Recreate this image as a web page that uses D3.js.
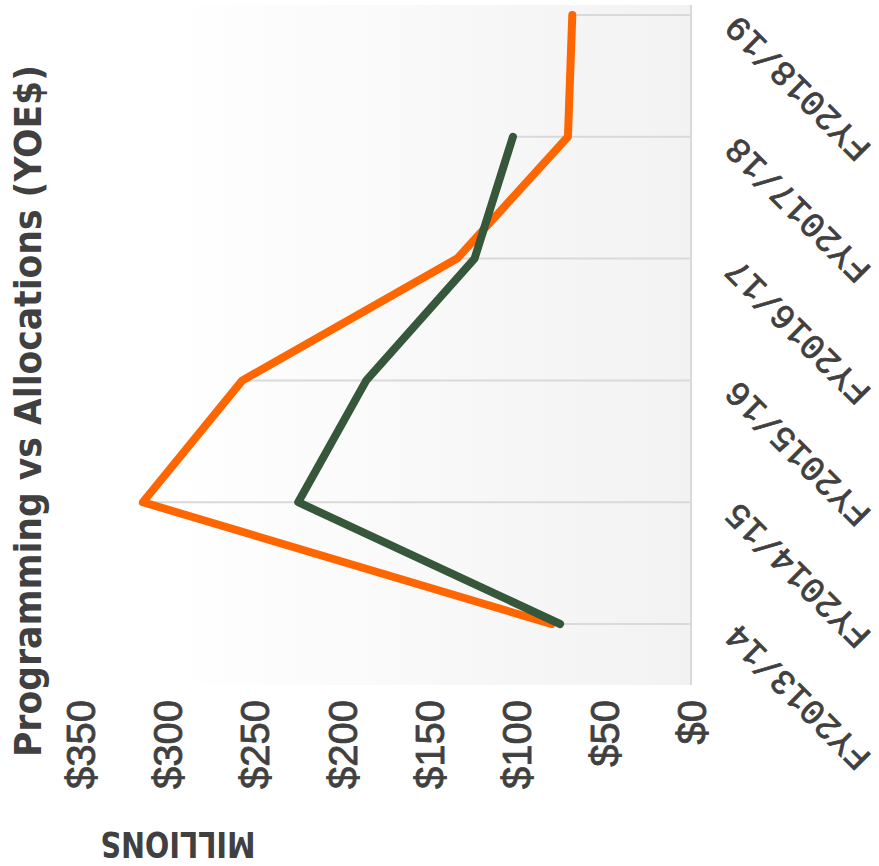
<!DOCTYPE html>
<html><head><meta charset="utf-8">
<script src="https://cdn.jsdelivr.net/npm/d3@7"></script>
<style>body{margin:0;background:#fff}</style>
</head><body>
<svg id="c" width="879" height="866"></svg>
<script>
const categories = ["FY2013/14","FY2014/15","FY2015/16","FY2016/17","FY2017/18","FY2018/19"];
const programming = [80, 314, 257, 134, 70.5, 68];
const allocations = [75, 225, 186, 124, 102, null];
const valueTicks = [0, 50, 100, 150, 200, 250, 300, 350];
const tickLabels = ["$0","$50","$100","$150","$200","$250","$300","$350"];
const titleText = "Programming vs Allocations (YOE$)";
const axisTitle = "MILLIONS";

const svg = d3.select("#c");
const x = d3.scaleLinear().domain([0, 350]).range([691, 80]);
const y = d3.scalePoint().domain(categories).range([624, 15]);
const txt = "#404040";
const narrow = "'Liberation Sans Narrow','DejaVu Sans Condensed',sans-serif";

// gradient background
const defs = svg.append("defs");
const grad = defs.append("linearGradient").attr("id","bg").attr("x1","0%").attr("x2","100%").attr("y1","0%").attr("y2","0%");
grad.append("stop").attr("offset","0%").attr("stop-color","#ffffff");
grad.append("stop").attr("offset","15%").attr("stop-color","#ffffff");
grad.append("stop").attr("offset","100%").attr("stop-color","#f2f2f2");
svg.append("rect").attr("x", x(350)).attr("y", 5).attr("width", x(0) - x(350)).attr("height", 680).attr("fill","url(#bg)");

// drop lines
const rows = categories.map((c,i)=>({c, v: d3.max([programming[i], allocations[i]].filter(v=>v!=null))}));
svg.append("g").selectAll("line").data(rows).join("line")
  .attr("x1", d=>x(d.v)).attr("x2", x(0))
  .attr("y1", d=>y(d.c)).attr("y2", d=>y(d.c))
  .attr("stroke","#d9d9d9").attr("stroke-width",2);

// category axis line
svg.append("line").attr("x1", x(0)).attr("x2", x(0)).attr("y1",5).attr("y2",685)
  .attr("stroke","#d9d9d9").attr("stroke-width",2);

// lines
const line = d3.line().defined(d=>d.v!=null).x(d=>x(d.v)).y(d=>y(d.c));
const series = [
  {vals: programming, color:"#ff6600"},
  {vals: allocations, color:"#37573b"}
];
series.forEach(s=>{
  svg.append("path").datum(categories.map((c,i)=>({c, v:s.vals[i]})))
    .attr("d", line).attr("fill","none").attr("stroke", s.color)
    .attr("stroke-width", 8).attr("stroke-linecap","round").attr("stroke-linejoin","round");
});

// value axis
const va = svg.append("g").attr("transform","translate(0,700)")
  .call(d3.axisBottom(x).tickValues(valueTicks).tickFormat((d,i)=>tickLabels[i]).tickSize(0));
va.select(".domain").remove();
va.selectAll("text").attr("x",0).attr("y",0).attr("dy","0.36em")
  .attr("transform","rotate(-90)").attr("text-anchor","end")
  .attr("fill",txt).attr("stroke",txt).attr("stroke-width",0.8)
  .style("font-family","'Liberation Sans',Arial,sans-serif")
  .style("font-size","40px");

// category axis
const ca = svg.append("g").attr("transform",`translate(${x(0)},0)`)
  .call(d3.axisRight(y).tickSize(0));
ca.select(".domain").remove();
ca.selectAll("text").attr("x",0).attr("dy",0)
  .attr("transform","translate(48,-2) rotate(-135)").attr("text-anchor","end")
  .attr("fill",txt).attr("stroke",txt).attr("stroke-width",0.8)
  .style("font-family","'Liberation Mono',monospace")
  .style("font-size","35px");

// title
svg.append("text").attr("transform","translate(41,411) rotate(-90)").attr("text-anchor","middle")
  .attr("fill",txt).style("font-family",narrow).style("font-size","38px").style("font-weight","bold")
  .attr("textLength",692).attr("lengthAdjust","spacingAndGlyphs").text(titleText);

// axis title
svg.append("text").attr("transform","translate(178,832) rotate(180)").attr("text-anchor","middle")
  .attr("fill",txt).style("font-family",narrow).style("font-size","36px").style("font-weight","bold")
  .attr("textLength",155).attr("lengthAdjust","spacingAndGlyphs").text(axisTitle);
</script>
</body></html>
